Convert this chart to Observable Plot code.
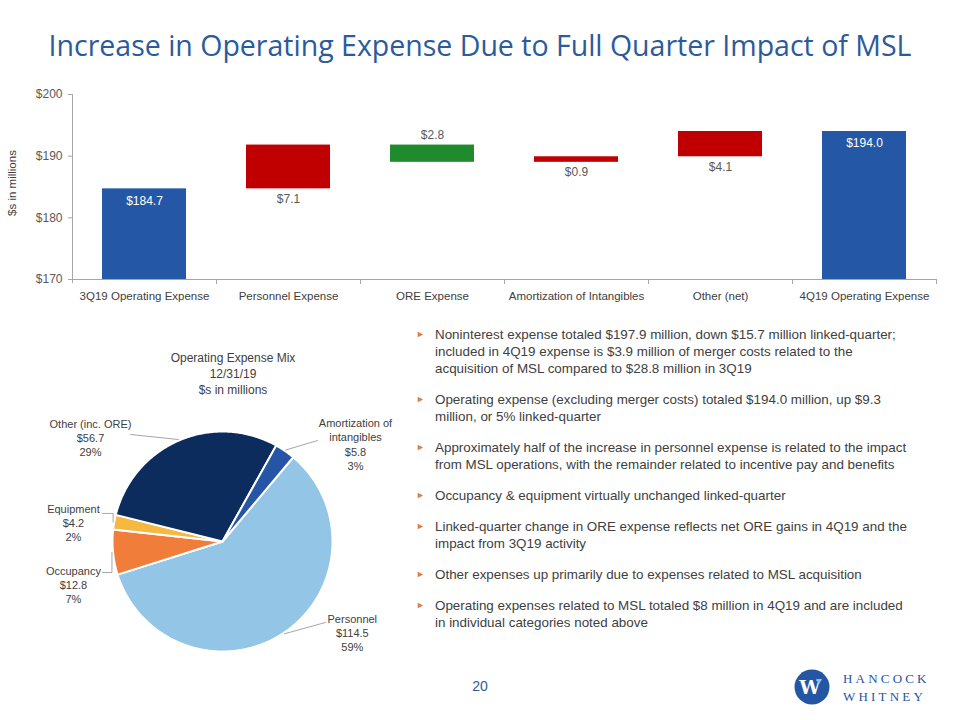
<!DOCTYPE html>
<html>
<head>
<meta charset="utf-8">
<script src="https://cdn.jsdelivr.net/npm/d3@7"></script>
<script src="https://cdn.jsdelivr.net/npm/@observablehq/plot@0.6"></script>
<style>
  body { margin: 0; background: #fff; }
  #page { position: relative; width: 960px; height: 720px; overflow: hidden; font-family: "Liberation Sans", Arial, sans-serif; color: #404040; }
  #title { position: absolute; left: 0; width: 960px; top: 31px; text-align: center; font-family: "Open Sans", sans-serif; font-size: 28.5px; line-height: 1; color: #2B5B9C; white-space: nowrap; }
  #bar { position: absolute; left: 0; top: 70px; }
  #ylabel { position: absolute; left: 12px; top: 183px; transform: translate(-50%, -50%) rotate(-90deg); font-size: 11.5px; color: #404040; white-space: nowrap; }
  #pie { position: absolute; left: 0; top: 330px; }
  #pietitle { position: absolute; left: 133px; width: 200px; top: 350px; text-align: center; font-size: 12px; line-height: 16px; color: #404040; }
  #bullets { position: absolute; left: 435px; top: 326px; width: 520px; font-size: 13.4px; line-height: 17px; color: #404040; }
  #bullets .b { position: relative; margin-bottom: 14px; white-space: nowrap; }
  #bullets .b::before { content: "\25BA"; position: absolute; left: -19px; top: 0; font-size: 9px; color: #E0803A; }
  #pagenum { position: absolute; left: 460px; width: 40px; top: 678px; text-align: center; font-size: 14px; color: #2B5B9C; }
  #logo { position: absolute; left: 790px; top: 665px; }
</style>
</head>
<body>
<div id="page">
  <div id="title"></div>
  <div id="bar"></div>
  <div id="ylabel"></div>
  <div id="pie"></div>
  <div id="pietitle"></div>
  <div id="bullets"></div>
  <div id="pagenum"></div>
  <div id="logo"></div>
</div>
<script>
// ---------- data ----------
const titleText = "Increase in Operating Expense Due to Full Quarter Impact of MSL";
const yAxisLabel = "$s in millions";
const categories = ["3Q19 Operating Expense", "Personnel Expense", "ORE Expense", "Amortization of Intangibles", "Other (net)", "4Q19 Operating Expense"];
const changes = [184.7, 7.1, -2.8, 0.9, 4.1, 194.0];
const kinds = ["total", "increase", "decrease", "increase", "increase", "total"];
const yTicks = [170, 180, 190, 200];

const pieTitle = ["Operating Expense Mix", "12/31/19", "$s in millions"];
const pieNames = ["Personnel", "Occupancy", "Equipment", "Other (inc. ORE)", "Amortization of\nintangibles"];
const pieValues = [114.5, 12.8, 4.2, 56.7, 5.8];

const bullets = [
  ["Noninterest expense totaled $197.9 million, down $15.7 million linked-quarter;", "included in 4Q19 expense is $3.9 million of merger costs related to the", "acquisition of MSL compared to $28.8 million in 3Q19"],
  ["Operating expense (excluding merger costs) totaled $194.0 million, up $9.3", "million, or 5% linked-quarter"],
  ["Approximately half of the increase in personnel expense is related to the impact", "from MSL operations, with the remainder related to incentive pay and benefits"],
  ["Occupancy & equipment virtually unchanged linked-quarter"],
  ["Linked-quarter change in ORE expense reflects net ORE gains in 4Q19 and the", "impact from 3Q19 activity"],
  ["Other expenses up primarily due to expenses related to MSL acquisition"],
  ["Operating expenses related to MSL totaled $8 million in 4Q19 and are included", "in individual categories noted above"]
];
const pageNumber = "20";

// ---------- styles / layout ----------
const kindColors = {domain: ["total", "increase", "decrease"], range: ["#2458A6", "#C00000", "#1F8B2C"]};
const pieColors = ["#92C5E6", "#F07D3A", "#F5B841", "#0B2C5C", "#2655A5"];
const axisGray = "#A6A6A6";
const W = 960, barMarginLeft = 72, barMarginRight = 24;
const step = (W - barMarginLeft - barMarginRight) / categories.length;

document.getElementById("title").textContent = titleText;
document.getElementById("ylabel").textContent = yAxisLabel;
document.getElementById("pietitle").innerHTML = pieTitle.join("<br>");
document.getElementById("pagenum").textContent = pageNumber;
document.getElementById("bullets").innerHTML = bullets.map(lines =>
  `<div class="b">${lines.map(l => l.replace(/&/g, "&amp;")).join("<br>")}</div>`).join("");

// ---------- waterfall ----------
let run = 0;
const rows = categories.map((category, i) => {
  const v = changes[i], kind = kinds[i];
  let start, end;
  if (kind === "total") { start = 0; end = v; }
  else { start = run; end = run + v; }
  run = end;
  return {category, kind, start, end, value: v, label: "$" + Math.abs(v).toFixed(1)};
});
const totals = rows.filter(d => d.kind === "total");
const deltasUp = rows.filter(d => d.kind !== "total" && d.value > 0);
const deltasDown = rows.filter(d => d.kind !== "total" && d.value < 0);

const barChart = Plot.plot({
  width: W, height: 250,
  marginTop: 24, marginBottom: 41, marginLeft: barMarginLeft, marginRight: barMarginRight,
  style: {fontFamily: "Liberation Sans, Arial, sans-serif", fontSize: "12px", color: "#404040", background: "transparent"},
  x: {domain: categories, paddingInner: 0.42, paddingOuter: 0.21, axis: null},
  y: {domain: [170, 200], axis: null},
  color: kindColors,
  marks: [
    Plot.barY(rows, {x: "category", y1: "start", y2: "end", fill: "kind", clip: true}),
    Plot.ruleY([170], {stroke: axisGray}),
    Plot.ruleX([categories[0]], {x: d => d, y1: 200, y2: 170, insetBottom: -4, dx: -step / 2, stroke: axisGray}),
    Plot.ruleX(categories.slice(1), {x: d => d, y1: 170, y2: 170, insetBottom: -5, dx: -step / 2, stroke: axisGray}),
    Plot.ruleX(categories.slice(-1), {x: d => d, y1: 170, y2: 170, insetBottom: -5, dx: step / 2, stroke: axisGray}),
    Plot.axisY(yTicks, {tickFormat: d => "$" + d, tickSize: 4, tickPadding: 6, stroke: axisGray, fill: "#595959", fontSize: 12, label: null}),
    Plot.axisX({tickSize: 0, tickPadding: 12, fill: "#404040", fontSize: 11.5, label: null}),
    Plot.text(totals, {x: "category", y: "end", text: "label", dy: 12, fill: "white", fontSize: 12}),
    Plot.text(deltasUp, {x: "category", y: "start", text: "label", dy: 10, fill: "#595959", fontSize: 12}),
    Plot.text(deltasDown, {x: "category", y: "start", text: "label", dy: -10, fill: "#595959", fontSize: 12})
  ]
});
document.getElementById("bar").append(barChart);

// ---------- pie ----------
const firstSliceAngle = 40 * Math.PI / 180;
const total = d3.sum(pieValues);
const arcs = d3.pie().sort(null).startAngle(firstSliceAngle).endAngle(firstSliceAngle + 2 * Math.PI)(pieValues);
const slicePts = [];
arcs.forEach((a, i) => {
  const name = pieNames[i];
  slicePts.push({name, x: 0, y: 0});
  const n = Math.max(2, Math.ceil((a.endAngle - a.startAngle) / 0.01));
  for (let k = 0; k <= n; k++) {
    const t = a.startAngle + (a.endAngle - a.startAngle) * k / n;
    slicePts.push({name, x: Math.sin(t), y: Math.cos(t)});
  }
  slicePts.push({name, x: 0, y: 0});
});

// label layout (unit-radius coordinates): text block centre and leader start
const labelLayout = [
  {tx: 1.18, ty: -0.827, lx: 0.936, ly: -0.736, elbow: false},   // Personnel
  {tx: -1.355, ty: -0.391, lx: -1.09, ly: -0.282, elbow: true},  // Occupancy
  {tx: -1.355, ty: 0.173, lx: -1.09, ly: 0.255, elbow: true},    // Equipment
  {tx: -1.2, ty: 0.945, lx: -0.836, ly: 0.973, elbow: false},    // Other
  {tx: 1.209, ty: 0.886, lx: 0.864, ly: 0.918, elbow: false}     // Amortization
];
const labels = arcs.map((a, i) => ({
  x: labelLayout[i].tx, y: labelLayout[i].ty,
  text: `${pieNames[i]}\n$${pieValues[i].toFixed(1)}\n${Math.round(pieValues[i] / total * 100)}%`
}));
const leaders = [];
arcs.forEach((a, i) => {
  const L = labelLayout[i];
  const mid = (a.startAngle + a.endAngle) / 2;
  const ex = Math.sin(mid) * 1.01, ey = Math.cos(mid) * 1.01;
  leaders.push({id: i, x: L.lx, y: L.ly});
  if (L.elbow) leaders.push({id: i, x: ex, y: L.ly});
  leaders.push({id: i, x: ex, y: ey});
});

const pieChart = Plot.plot({
  width: 440, height: 340, margin: 0,
  style: {fontFamily: "Liberation Sans, Arial, sans-serif", fontSize: "11px", color: "#404040", background: "transparent"},
  x: {domain: [-1, 1], range: [112, 332], axis: null},
  y: {domain: [-1, 1], range: [321, 101], axis: null},
  color: {domain: pieNames, range: pieColors},
  marks: [
    Plot.line(slicePts, {x: "x", y: "y", z: "name", fill: "name", stroke: "white", strokeWidth: 2, strokeLinejoin: "round"}),
    Plot.line(leaders, {x: "x", y: "y", z: "id", stroke: axisGray, strokeWidth: 1}),
    Plot.text(labels, {x: "x", y: "y", text: "text", lineAnchor: "middle", lineHeight: 1.3, fill: "#404040", fontSize: 11})
  ]
});
document.getElementById("pie").append(pieChart);

// ---------- logo ----------
document.getElementById("logo").innerHTML = `
<svg width="150" height="45" xmlns="http://www.w3.org/2000/svg">
  <circle cx="22" cy="22" r="17.5" fill="#2456A4"/>
  <text x="20" y="29" text-anchor="middle" font-family="DejaVu Serif, serif" font-weight="bold" font-size="19" fill="white">W</text>
  <polygon points="26,14 32,14 29,19" fill="#8FC1EA"/>
  <text x="53" y="18" font-family="Liberation Serif, serif" font-size="13" letter-spacing="3.2" fill="#2456A4">HANCOCK</text>
  <text x="53" y="36" font-family="Liberation Serif, serif" font-size="13" letter-spacing="3.2" fill="#2456A4">WHITNEY</text>
</svg>`;
</script>
</body>
</html>
